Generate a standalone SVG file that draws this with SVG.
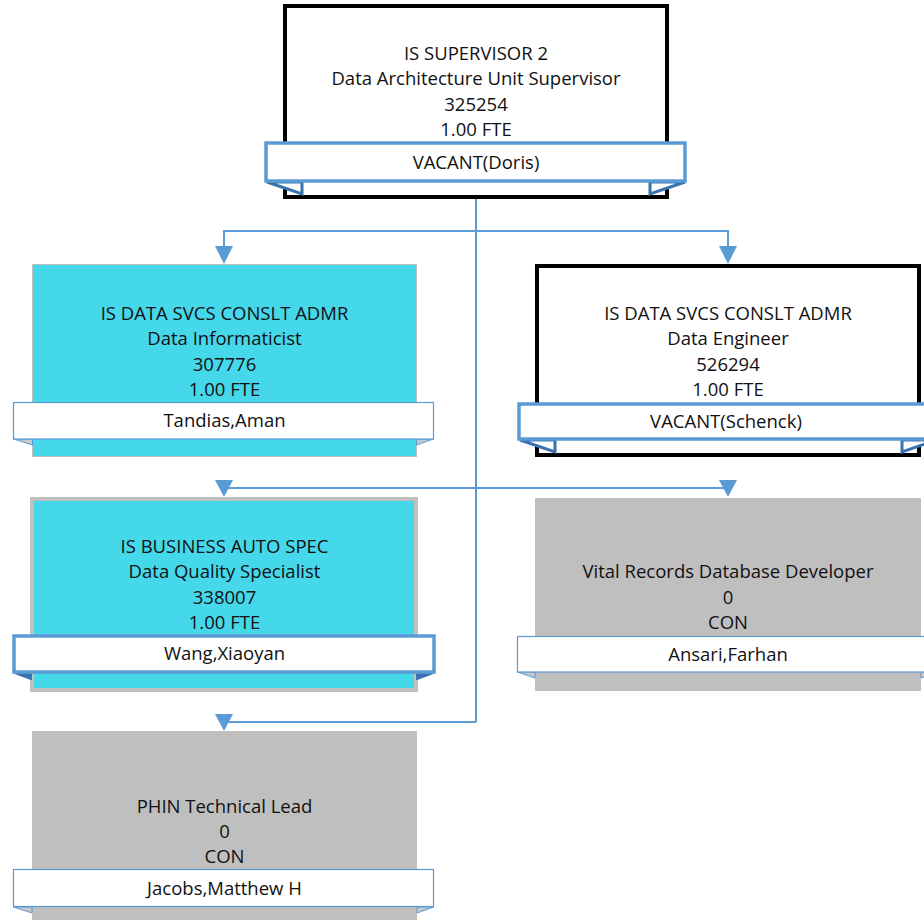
<svg xmlns="http://www.w3.org/2000/svg" width="924" height="920" viewBox="0 0 924 920">
<style>
  text { font-family: "Open Sans", Lato, "Liberation Sans", sans-serif; font-size: 18.5px; fill: #111; text-anchor: middle; }
  .conn { fill: none; stroke: #5b9bd5; stroke-width: 2; }
  .arrow { fill: #5b9bd5; stroke: none; }
  .boxw { fill: #ffffff; stroke: #000000; stroke-width: 4; }
  .boxc { fill: #45d7ea; stroke: #c0c0c0; stroke-width: 1; }
  .boxc2 { fill: #45d7ea; stroke: #c0c0c0; stroke-width: 4; }
  .boxg { fill: #bfbfbf; stroke: none; }
  .npthick { fill: #ffffff; stroke: #5b9bd5; stroke-width: 3.5; }
  .npthin { fill: #ffffff; stroke: #5b9bd5; stroke-width: 1.2; }
  .foldthick { fill: #ffffff; stroke: #3a72b0; stroke-width: 3; stroke-linejoin: miter; }
  .foldthickd { fill: #3a72b0; stroke: #3a72b0; stroke-width: 2; }
  .foldthin { fill: #c8c8c8; stroke: #5b9bd5; stroke-width: 1; }
</style>

<g id="connectors">
  <path class="conn" d="M476 199 V722"/>
  <path class="conn" d="M224 247 V231 H728 V247"/>
  <polygon class="arrow" points="215,246 233,246 224,264"/>
  <polygon class="arrow" points="719,246 737,246 728,264"/>
  <path class="conn" d="M224 488 H728"/>
  <polygon class="arrow" points="215,480 233,480 224,497"/>
  <polygon class="arrow" points="719,480 737,480 728,497"/>
  <path class="conn" d="M224 722 H476"/>
  <polygon class="arrow" points="215,714 233,714 224,731"/>
</g>

<g id="node-supervisor">
  <rect class="boxw" x="285" y="6" width="382" height="191"/>
  <text x="476" y="60">IS SUPERVISOR 2</text>
  <text x="476" y="85">Data Architecture Unit Supervisor</text>
  <text x="476" y="111">325254</text>
  <text x="476" y="136">1.00 FTE</text>
  <polygon class="foldthick" points="267,182 302,182 302,194"/>
  <polygon class="foldthick" points="685,182 650,182 650,194"/>
  <rect class="npthick" x="266" y="143" width="419" height="38"/>
  <text x="476" y="169">VACANT(Doris)</text>
</g>

<g id="node-informaticist">
  <rect class="boxc" x="32.5" y="264.5" width="384" height="192"/>
  <text x="224.5" y="320">IS DATA SVCS CONSLT ADMR</text>
  <text x="224.5" y="345">Data Informaticist</text>
  <text x="224.5" y="371">307776</text>
  <text x="224.5" y="396">1.00 FTE</text>
  <polygon class="foldthin" points="13.5,439 32.5,439 32.5,445"/>
  <polygon class="foldthin" points="433.5,439 416.5,439 416.5,445"/>
  <rect class="npthin" x="13.5" y="402.5" width="420" height="36.5"/>
  <text x="224.5" y="427">Tandias,Aman</text>
</g>

<g id="node-engineer">
  <rect class="boxw" x="537" y="266" width="382" height="189"/>
  <text x="728" y="320">IS DATA SVCS CONSLT ADMR</text>
  <text x="728" y="345">Data Engineer</text>
  <text x="728" y="371">526294</text>
  <text x="728" y="396">1.00 FTE</text>
  <polygon class="foldthick" points="520,440 555,440 555,452"/>
  <polygon class="foldthick" points="936,440 902,440 902,452"/>
  <rect class="npthick" x="519" y="404" width="418" height="35"/>
  <text x="726" y="428">VACANT(Schenck)</text>
</g>

<g id="node-quality">
  <rect class="boxc2" x="32" y="499" width="384" height="191"/>
  <text x="224.5" y="553">IS BUSINESS AUTO SPEC</text>
  <text x="224.5" y="578">Data Quality Specialist</text>
  <text x="224.5" y="604">338007</text>
  <text x="224.5" y="629">1.00 FTE</text>
  <polygon class="foldthickd" points="15,673 31,673 31,679"/>
  <polygon class="foldthickd" points="433,673 417,673 417,679"/>
  <rect class="npthick" x="14" y="636" width="420" height="36"/>
  <text x="224.5" y="660">Wang,Xiaoyan</text>
</g>

<g id="node-vital">
  <rect class="boxg" x="535" y="498" width="386" height="193"/>
  <text x="728" y="578">Vital Records Database Developer</text>
  <text x="728" y="604">0</text>
  <text x="728" y="629">CON</text>
  <polygon class="foldthin" points="517.5,672 535,672 535,678"/>
  <polygon class="foldthin" points="939,672 921,672 921,678"/>
  <rect class="npthin" x="517.5" y="636.5" width="422" height="35.5"/>
  <text x="728" y="661">Ansari,Farhan</text>
</g>

<g id="node-phin">
  <rect class="boxg" x="32" y="731" width="385" height="195"/>
  <text x="224.5" y="813">PHIN Technical Lead</text>
  <text x="224.5" y="838">0</text>
  <text x="224.5" y="863">CON</text>
  <polygon class="foldthin" points="13.5,907 32,907 32,913"/>
  <polygon class="foldthin" points="433.5,907 417,907 417,913"/>
  <rect class="npthin" x="13.5" y="869.5" width="420" height="37"/>
  <text x="224.5" y="895">Jacobs,Matthew H</text>
</g>
</svg>
